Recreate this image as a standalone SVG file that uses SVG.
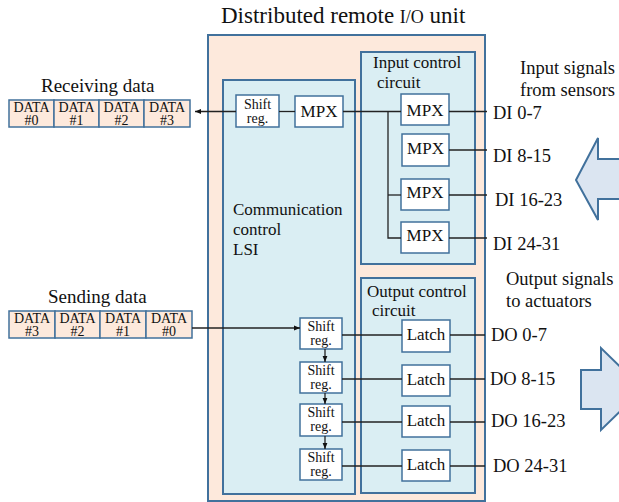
<svg xmlns="http://www.w3.org/2000/svg" width="619" height="502" viewBox="0 0 619 502" font-family="'Liberation Serif', 'Times New Roman', serif">
  <defs>
    <style>
      text { font-family: 'Liberation Serif', 'Times New Roman', serif; fill: #111; }
      .unit { fill: #fde9dc; stroke: #41719c; stroke-width: 2; }
      .panel { fill: #daeef3; stroke: #41719c; stroke-width: 2; }
      .blk { fill: #ffffff; stroke: #41719c; stroke-width: 1.5; }
      .cell { fill: #fde9dc; stroke: #41719c; stroke-width: 1.5; }
      .wire { fill: none; stroke: #222; stroke-width: 1.3; }
      .big { fill: #dbe5f1; stroke: #41719c; stroke-width: 2; stroke-linejoin: miter; }
      .cap { font-size: 14px; }
      .sr { font-size: 14px; }
      .mpx { font-size: 17px; }
      .lbl { font-size: 17px; }
      .sig { font-size: 18.5px; }
      .frame { font-size: 19px; }
    </style>
    <marker id="ah" viewBox="0 0 10 10" refX="10" refY="5" markerWidth="6" markerHeight="6" orient="auto" markerUnits="userSpaceOnUse">
      <path d="M0,1 L10,5 L0,9 z" fill="#111"/>
    </marker>
  </defs>

  <!-- title -->
  <text x="221" y="23" font-size="23">Distributed remote <tspan font-size="18">I/O</tspan> unit</text>

  <!-- unit housing and inner panels -->
  <g id="unit">
    <rect class="unit" x="208" y="35" width="277" height="466"/>
  </g>
  <g id="comm-lsi">
    <rect class="panel" x="223" y="80" width="132" height="414"/>
    <text class="lbl" x="233" y="215">Communication</text>
    <text class="lbl" x="233" y="235">control</text>
    <text class="lbl" x="233" y="255">LSI</text>
  </g>
  <g id="input-control">
    <rect class="panel" x="361" y="52" width="114" height="212"/>
    <text class="lbl" x="373" y="68">Input control</text>
    <text class="lbl" x="377" y="88">circuit</text>
  </g>
  <g id="output-control">
    <rect class="panel" x="361" y="278" width="114" height="215"/>
    <text class="lbl" x="367" y="297">Output control</text>
    <text class="lbl" x="372" y="316">circuit</text>
  </g>

  <!-- receiving data frame -->
  <g id="receiving-data">
    <text class="frame" x="41" y="92">Receiving data</text>
    <rect class="cell" x="9" y="100" width="45" height="27"/>
    <rect class="cell" x="54" y="100" width="45" height="27"/>
    <rect class="cell" x="99" y="100" width="45" height="27"/>
    <rect class="cell" x="144" y="100" width="46" height="27"/>
    <g class="cap" text-anchor="middle">
      <text><tspan x="31.5" y="111.5">DATA</tspan><tspan x="31.5" y="125">#0</tspan></text>
      <text><tspan x="76.5" y="111.5">DATA</tspan><tspan x="76.5" y="125">#1</tspan></text>
      <text><tspan x="121.5" y="111.5">DATA</tspan><tspan x="121.5" y="125">#2</tspan></text>
      <text><tspan x="167" y="111.5">DATA</tspan><tspan x="167" y="125">#3</tspan></text>
    </g>
  </g>

  <!-- sending data frame -->
  <g id="sending-data">
    <text class="frame" x="48" y="303">Sending data</text>
    <rect class="cell" x="9" y="311" width="46" height="27"/>
    <rect class="cell" x="55" y="311" width="45" height="27"/>
    <rect class="cell" x="100" y="311" width="46" height="27"/>
    <rect class="cell" x="146" y="311" width="46" height="27"/>
    <g class="cap" text-anchor="middle">
      <text><tspan x="32" y="322.5">DATA</tspan><tspan x="32" y="336">#3</tspan></text>
      <text><tspan x="77.5" y="322.5">DATA</tspan><tspan x="77.5" y="336">#2</tspan></text>
      <text><tspan x="123" y="322.5">DATA</tspan><tspan x="123" y="336">#1</tspan></text>
      <text><tspan x="169" y="322.5">DATA</tspan><tspan x="169" y="336">#0</tspan></text>
    </g>
  </g>

  <!-- receive path blocks -->
  <g id="rx-shift">
    <rect class="blk" x="236" y="95" width="43" height="32"/>
    <text class="sr" text-anchor="middle"><tspan x="257.5" y="109">Shift</tspan><tspan x="257.5" y="123">reg.</tspan></text>
  </g>
  <g id="rx-mpx">
    <rect class="blk" x="295" y="96" width="48" height="31"/>
    <text class="mpx" x="319" y="117" text-anchor="middle">MPX</text>
  </g>

  <!-- input multiplexers -->
  <g id="mpx-0">
    <rect class="blk" x="401" y="94" width="48" height="31"/>
    <text class="mpx" x="425" y="115.5" text-anchor="middle">MPX</text>
  </g>
  <g id="mpx-1">
    <rect class="blk" x="402" y="134" width="47" height="32"/>
    <text class="mpx" x="425.5" y="154" text-anchor="middle">MPX</text>
  </g>
  <g id="mpx-2">
    <rect class="blk" x="401" y="179" width="48" height="31"/>
    <text class="mpx" x="425" y="198" text-anchor="middle">MPX</text>
  </g>
  <g id="mpx-3">
    <rect class="blk" x="401" y="222" width="48" height="31"/>
    <text class="mpx" x="425" y="241" text-anchor="middle">MPX</text>
  </g>

  <!-- transmit shift register chain -->
  <g id="tx-shift-0">
    <rect class="blk" x="300" y="318" width="42" height="31"/>
    <text class="sr" text-anchor="middle"><tspan x="321" y="330.5">Shift</tspan><tspan x="321" y="344.5">reg.</tspan></text>
  </g>
  <g id="tx-shift-1">
    <rect class="blk" x="300" y="362" width="42" height="31"/>
    <text class="sr" text-anchor="middle"><tspan x="321" y="374.5">Shift</tspan><tspan x="321" y="388.5">reg.</tspan></text>
  </g>
  <g id="tx-shift-2">
    <rect class="blk" x="300" y="404" width="42" height="32"/>
    <text class="sr" text-anchor="middle"><tspan x="321" y="416.5">Shift</tspan><tspan x="321" y="431">reg.</tspan></text>
  </g>
  <g id="tx-shift-3">
    <rect class="blk" x="300" y="449" width="42" height="31"/>
    <text class="sr" text-anchor="middle"><tspan x="321" y="462">Shift</tspan><tspan x="321" y="476">reg.</tspan></text>
  </g>

  <!-- output latches -->
  <g id="latch-0">
    <rect class="blk" x="402" y="320" width="48" height="32"/>
    <text class="mpx" x="426" y="340" text-anchor="middle">Latch</text>
  </g>
  <g id="latch-1">
    <rect class="blk" x="402" y="365" width="48" height="31"/>
    <text class="mpx" x="426" y="384.5" text-anchor="middle">Latch</text>
  </g>
  <g id="latch-2">
    <rect class="blk" x="402" y="406" width="48" height="31"/>
    <text class="mpx" x="426" y="425.5" text-anchor="middle">Latch</text>
  </g>
  <g id="latch-3">
    <rect class="blk" x="402" y="450" width="48" height="31"/>
    <text class="mpx" x="426" y="469.5" text-anchor="middle">Latch</text>
  </g>

  <!-- connectors -->
  <g id="connectors" class="wire">
    <line x1="236" y1="111.5" x2="195" y2="111.5" marker-end="url(#ah)"/>
    <line x1="279" y1="111.5" x2="295" y2="111.5"/>
    <line x1="343" y1="111.5" x2="401" y2="111.5"/>
    <polyline points="388,111.5 388,238 401,238"/>
    <line x1="388" y1="195" x2="401" y2="195"/>
    <line x1="449" y1="111.5" x2="487" y2="111.5"/>
    <line x1="449" y1="150" x2="487" y2="150"/>
    <line x1="449" y1="195" x2="487" y2="195"/>
    <line x1="449" y1="238" x2="487" y2="238"/>

    <line x1="192" y1="328" x2="300" y2="328" marker-end="url(#ah)"/>
    <line x1="325" y1="349" x2="325" y2="362" marker-end="url(#ah)"/>
    <line x1="325" y1="393" x2="325" y2="404" marker-end="url(#ah)"/>
    <line x1="325" y1="436" x2="325" y2="449" marker-end="url(#ah)"/>
    <line x1="342" y1="335" x2="402" y2="335"/>
    <line x1="342" y1="379" x2="402" y2="379"/>
    <line x1="342" y1="422" x2="402" y2="422"/>
    <line x1="342" y1="466" x2="402" y2="466"/>
    <line x1="450" y1="335" x2="485" y2="335"/>
    <line x1="450" y1="379" x2="485" y2="379"/>
    <line x1="450" y1="422" x2="485" y2="422"/>
    <line x1="450" y1="466" x2="485" y2="466"/>
  </g>

  <!-- signal labels -->
  <g id="di-labels" class="sig">
    <text x="493" y="119">DI 0-7</text>
    <text x="493" y="162">DI 8-15</text>
    <text x="495" y="206">DI 16-23</text>
    <text x="493" y="250">DI 24-31</text>
  </g>
  <g id="do-labels" class="sig">
    <text x="491" y="341">DO 0-7</text>
    <text x="490" y="385">DO 8-15</text>
    <text x="491" y="427">DO 16-23</text>
    <text x="493" y="472">DO 24-31</text>
  </g>

  <g id="input-signals">
    <text class="sig" x="520" y="74">Input signals</text>
    <text class="sig" x="520" y="96">from sensors</text>
    <polygon class="big" points="576,180 598,138 598,159 622,159 622,199 598,199 598,220"/>
  </g>
  <g id="output-signals">
    <text class="sig" x="506" y="285">Output signals</text>
    <text class="sig" x="506" y="307">to actuators</text>
    <polygon class="big" points="581,370 601,370 601,348 643,389 601,430 601,409 581,409"/>
  </g>
</svg>
